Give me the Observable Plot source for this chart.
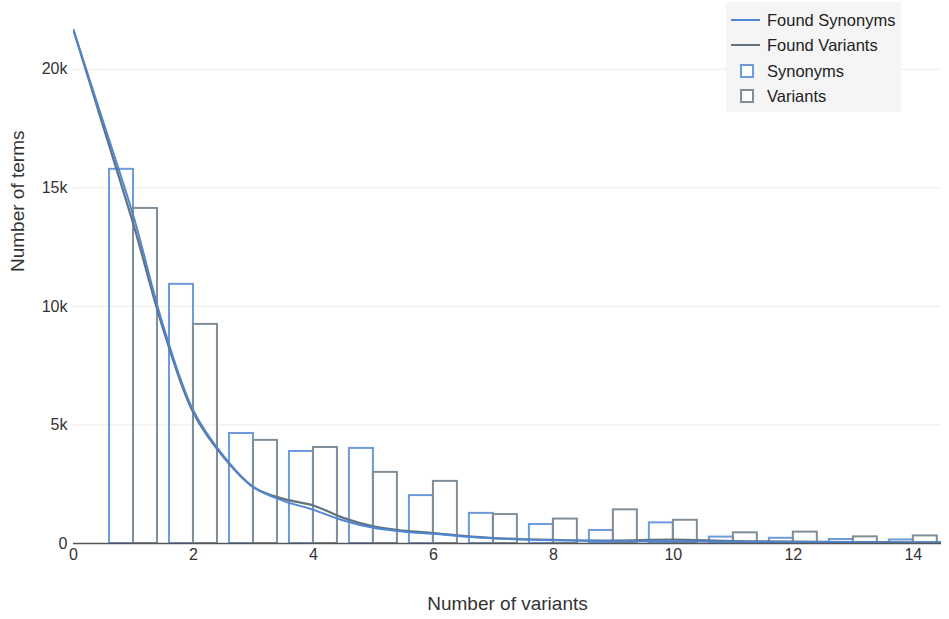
<!DOCTYPE html>
<html>
<head>
<meta charset="utf-8">
<script src="https://cdn.jsdelivr.net/npm/d3@7"></script>
<script src="https://cdn.jsdelivr.net/npm/@observablehq/plot@0.6"></script>
<style>
  body { margin: 0; background: #fff; font-family: "Liberation Sans", Arial, sans-serif; }
  #wrap { position: relative; width: 949px; height: 619px; }
  #legend { position: absolute; left: 726px; top: 2px; width: 175px; height: 110px; background: #f5f5f5; font-size: 16.5px; color: #222; }
  .item { position: absolute; left: 0; height: 20px; line-height: 20px; }
  .item span { position: absolute; left: 41px; white-space: nowrap; }
  .ln { position: absolute; left: 5px; top: 9px; width: 29px; height: 2px; }
  .sq { position: absolute; left: 14px; top: 3px; width: 10px; height: 10px; border: 2px solid; background: #fff; }
</style>
</head>
<body>
<div id="wrap"></div>
<script>
// Bar data (number of variants k, counts)
const variantCounts = [1, 2, 3, 4, 5, 6, 7, 8, 9, 10, 11, 12, 13, 14];
const synonymsBars = [15780, 10930, 4640, 3880, 4010, 2020, 1270, 800, 550, 870, 270, 220, 170, 150];
const variantsBars = [14130, 9240, 4350, 4050, 3000, 2620, 1220, 1030, 1420, 980, 450, 480, 280, 320];

// Smoothed curves
const curveX = [0, 0.5, 1, 1.5, 2, 2.5, 3, 3.5, 4, 4.5, 5, 5.5, 6, 6.5, 7, 7.5, 8, 9, 10, 11, 12, 13, 14, 14.5];
const foundSynonyms = [21650, 17750, 13800, 9150, 5600, 3700, 2380, 1800, 1420, 970, 660, 500, 410, 300, 220, 170, 140, 100, 90, 70, 60, 50, 40, 40];
const foundVariants = [21650, 17550, 13450, 9000, 5500, 3650, 2380, 1880, 1600, 1080, 720, 540, 440, 320, 230, 180, 150, 120, 160, 100, 80, 60, 50, 50];

const xTicks = [0, 2, 4, 6, 8, 10, 12, 14];
const yTicks = [0, 5000, 10000, 15000, 20000];
const yTickLabels = ["0", "5k", "10k", "15k", "20k"];

const blueLine = "#4f86d4", grayLine = "#637380";
const blueBar = "#6d9bdc", grayBar = "#7f8e99";

const synBars = variantCounts.map((k, i) => ({x1: k - 0.4, x2: k, y: synonymsBars[i]}));
const varBars = variantCounts.map((k, i) => ({x1: k, x2: k + 0.4, y: variantsBars[i]}));
const synLine = curveX.map((x, i) => ({x, y: foundSynonyms[i]}));
const varLine = curveX.map((x, i) => ({x, y: foundVariants[i]}));

const chart = Plot.plot({
  width: 949,
  height: 619,
  marginLeft: 73,
  marginRight: 8,
  marginTop: 0,
  marginBottom: 76,
  style: {fontFamily: "'Liberation Sans', Arial, sans-serif", fontSize: "16px", color: "#333", background: "#fff"},
  x: {domain: [0, 14.47], axis: null},
  y: {domain: [0, 22900], axis: null},
  marks: [
    Plot.ruleY(yTicks.slice(1), {stroke: "#eaeaea", strokeWidth: 1}),
    Plot.rectY(synBars, {x1: "x1", x2: "x2", y: "y", fill: "none", stroke: blueBar, strokeWidth: 2}),
    Plot.rectY(varBars, {x1: "x1", x2: "x2", y: "y", fill: "none", stroke: grayBar, strokeWidth: 2}),
    Plot.line(varLine, {x: "x", y: "y", stroke: grayLine, strokeWidth: 2.2, curve: "catmull-rom", clip: true}),
    Plot.line(synLine, {x: "x", y: "y", stroke: blueLine, strokeWidth: 2, curve: "catmull-rom", clip: true}),
    Plot.ruleY([0], {stroke: "#555", strokeWidth: 1.5}),
    Plot.axisX({ticks: xTicks, tickSize: 0, tickPadding: 5, fontSize: 16, label: null, color: "#333"}),
    Plot.axisY({ticks: yTicks, tickSize: 0, tickPadding: 6, tickFormat: (d) => yTickLabels[yTicks.indexOf(d)], fontSize: 16, label: null, color: "#333"}),
    Plot.text(["Number of variants"], {frameAnchor: "bottom", dy: 66, fontSize: 19, fill: "#333"}),
    Plot.text(["Number of terms"], {frameAnchor: "left", dx: -56, rotate: -90, fontSize: 19, fill: "#333"})
  ]
});

const wrap = document.getElementById("wrap");
wrap.appendChild(chart);

const legend = document.createElement("div");
legend.id = "legend";
const items = [
  {label: "Found Synonyms", type: "line", color: blueLine, top: 8},
  {label: "Found Variants", type: "line", color: grayLine, top: 33},
  {label: "Synonyms", type: "sq", color: blueBar, top: 59},
  {label: "Variants", type: "sq", color: grayBar, top: 84}
];
for (const it of items) {
  const d = document.createElement("div");
  d.className = "item";
  d.style.top = it.top + "px";
  const m = document.createElement("div");
  m.className = it.type === "line" ? "ln" : "sq";
  if (it.type === "line") m.style.background = it.color; else m.style.borderColor = it.color;
  d.appendChild(m);
  const s = document.createElement("span");
  s.textContent = it.label;
  d.appendChild(s);
  legend.appendChild(d);
}
wrap.appendChild(legend);
</script>
</body>
</html>
